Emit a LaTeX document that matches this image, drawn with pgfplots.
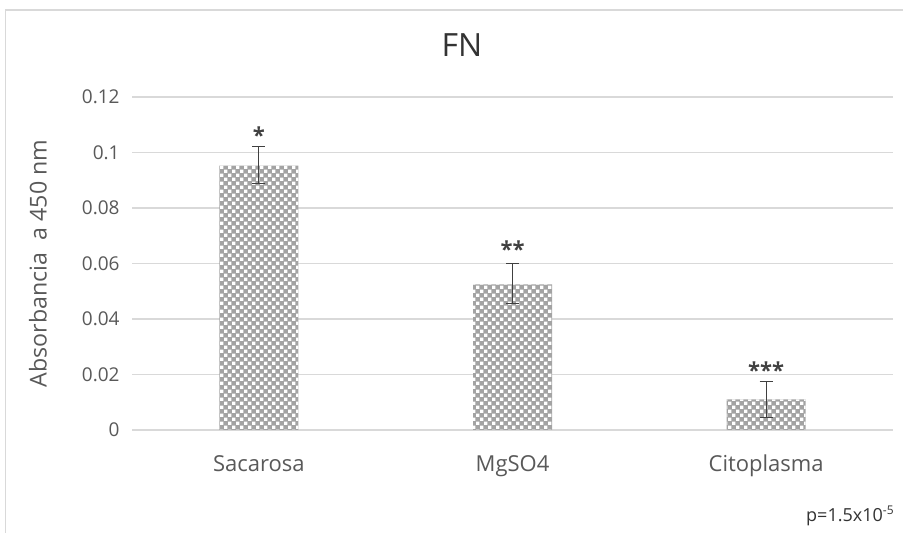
\documentclass[border=0pt]{standalone}
\usepackage{fontspec}
\setmainfont{Open Sans}
\usepackage{pgfplots}
\pgfplotsset{compat=1.18}
\usetikzlibrary{patterns}
\definecolor{txt}{HTML}{595959}
\definecolor{gridc}{HTML}{D9D9D9}
\definecolor{barg}{HTML}{A3A3A3}
\definecolor{errc}{HTML}{404040}
\pgfdeclarepatternformonly{checker}{\pgfqpoint{-0.1pt}{-0.1pt}}{\pgfqpoint{4.1pt}{4.1pt}}{\pgfqpoint{4pt}{4pt}}{%
  \pgfpathrectangle{\pgfqpoint{0pt}{0pt}}{\pgfqpoint{1.7pt}{1.7pt}}%
  \pgfpathrectangle{\pgfqpoint{2pt}{2pt}}{\pgfqpoint{1.7pt}{1.7pt}}%
  \pgfusepath{fill}}
\begin{document}
\begin{tikzpicture}
\useasboundingbox (0,0) rectangle (451.5pt,266.5pt);
\fill[white] (0,0) rectangle (451.5pt,266.5pt);
\draw[gridc, line width=0.75pt] (2.75pt,0) -- (2.75pt,261.5pt) -- (451.5pt,261.5pt);
\begin{axis}[
  at={(66pt,51.5pt)}, anchor=south west,
  scale only axis, width=380.5pt, height=166.5pt,
  xmin=-0.5, xmax=2.5, ymin=0, ymax=0.12,
  xtick={0,1,2}, xticklabels={Sacarosa,MgSO4,Citoplasma},
  ytick={0,0.02,0.04,0.06,0.08,0.1,0.12},
  yticklabels={0,0.02,0.04,0.06,0.08,0.1,0.12},
  axis line style={draw=none},
  tick style={draw=none},
  major tick length=0pt,
  ymajorgrids, grid style={gridc, line width=0.75pt},
  yticklabel style={anchor=east, inner sep=0pt, xshift=-6pt, font=\fontsize{9.5}{11}\selectfont, text=txt},
  xticklabel style={anchor=base, inner sep=0pt, yshift=-21pt, font=\fontsize{11}{13}\selectfont, text=txt},
  ylabel={Absorbancia\ \ a 450 nm},
  ylabel style={at={(axis description cs:-0.1235,0.5)}, anchor=center, font=\fontsize{11.6}{14}\selectfont, text=txt},
  title={FN},
  title style={at={(axis description cs:0.4336,1.12)}, anchor=center, font=\fontsize{16}{19}\selectfont, text=black!80},
  clip=false,
]
\addplot[ybar, bar width=39.5pt, fill=barg, draw=none, postaction={pattern=checker, pattern color=white}]
  coordinates {(0,0.0953) (1,0.0525) (2,0.0110)};
\addplot[only marks, mark=*, mark size=0pt, forget plot,
  error bars/.cd, y dir=both, y explicit,
  error bar style={draw=errc, line width=0.65pt},
  error mark options={draw=errc, line width=0.65pt, mark size=3.25pt, rotate=90}]
  coordinates {
   (0,0.0953) += (0,0.0068) -= (0,0.0064)
   (1,0.0525) += (0,0.0074) -= (0,0.0068)
   (2,0.0110) += (0,0.0064) -= (0,0.0064)
  };
\node[anchor=base, inner sep=0pt, font=\bfseries\fontsize{11}{13}\selectfont, text=errc] at (axis cs:0,0.1033) {*};
\node[anchor=base, inner sep=0pt, font=\bfseries\fontsize{11}{13}\selectfont, text=errc] at (axis cs:1,0.0622) {**};
\node[anchor=base, inner sep=0pt, font=\bfseries\fontsize{11}{13}\selectfont, text=errc] at (axis cs:2,0.0187) {***};
\end{axis}
\node[anchor=base east, inner sep=0pt, font=\fontsize{9}{11}\selectfont, text=black!80] at (447.5pt,5.5pt) {p=1.5x10\textsuperscript{-5}};
\end{tikzpicture}
\end{document}
